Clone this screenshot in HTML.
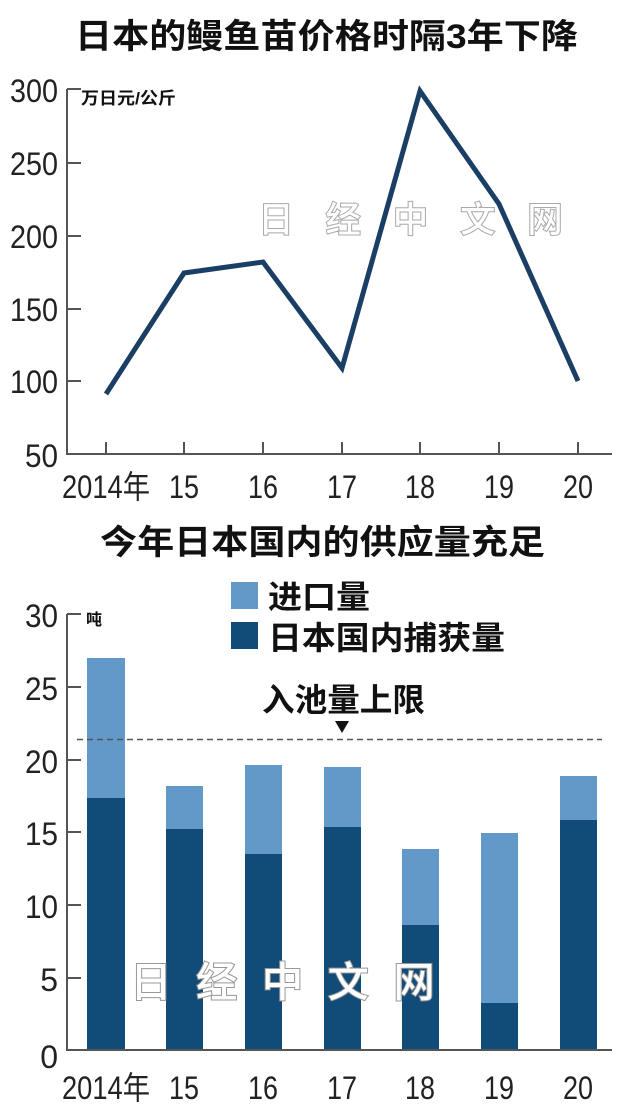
<!DOCTYPE html>
<html><head><meta charset="utf-8"><style>
body{margin:0;background:#fff;}
svg{display:block;font-family:"Liberation Sans","Noto Sans CJK SC",sans-serif;}
</style></head><body>
<svg width="630" height="1116" viewBox="0 0 630 1116">
<text x="75" y="48" font-size="34" font-weight="bold" fill="#111" textLength="503" lengthAdjust="spacingAndGlyphs">日本的鳗鱼苗价格时隔3年下降</text>
<g stroke="#555" stroke-width="2" fill="none">
<path d="M67 89 V454 H612"/>
<path d="M67 89h14M67 163h14M67 236h14M67 309h14M67 381h14"/>
<path d="M106 454v-12M184 454v-12M263 454v-12M342 454v-12M420 454v-12M499 454v-12M578 454v-12"/>
</g>
<g font-size="32" fill="#222" text-anchor="end">
<text x="58" y="102" textLength="48" lengthAdjust="spacingAndGlyphs">300</text><text x="58" y="175" textLength="48" lengthAdjust="spacingAndGlyphs">250</text><text x="58" y="248" textLength="48" lengthAdjust="spacingAndGlyphs">200</text><text x="58" y="321" textLength="48" lengthAdjust="spacingAndGlyphs">150</text><text x="58" y="393" textLength="48" lengthAdjust="spacingAndGlyphs">100</text><text x="58" y="467" textLength="33" lengthAdjust="spacingAndGlyphs">50</text>
</g>
<text x="81" y="104" font-size="17" font-weight="bold" fill="#111" textLength="95" lengthAdjust="spacingAndGlyphs">万日元/公斤</text>
<g font-size="32" fill="#222" text-anchor="middle">
<text x="106" y="498" textLength="88" lengthAdjust="spacingAndGlyphs">2014年</text><text x="184" y="498" textLength="30" lengthAdjust="spacingAndGlyphs">15</text><text x="263" y="498" textLength="30" lengthAdjust="spacingAndGlyphs">16</text><text x="342" y="498" textLength="30" lengthAdjust="spacingAndGlyphs">17</text><text x="420" y="498" textLength="30" lengthAdjust="spacingAndGlyphs">18</text><text x="499" y="498" textLength="30" lengthAdjust="spacingAndGlyphs">19</text><text x="578" y="498" textLength="30" lengthAdjust="spacingAndGlyphs">20</text>
</g>
<polyline points="106,394 184,273 263,262 342,368 420,91 499,204 578,381" fill="none" stroke="#1b3f64" stroke-width="5" stroke-linejoin="miter"/>
<text x="258" y="232" font-size="36" font-weight="bold" fill="#fff" stroke="#aaa" stroke-width="1" textLength="305" lengthAdjust="spacing">日经中文网</text>
<text x="100" y="554" font-size="34" font-weight="bold" fill="#111" textLength="445" lengthAdjust="spacingAndGlyphs">今年日本国内的供应量充足</text>
<rect x="231" y="582" width="27" height="27" fill="#6399c9"/>
<rect x="231" y="622" width="27" height="27" fill="#114b78"/>
<text x="268" y="608" font-size="32" font-weight="bold" fill="#111" textLength="102" lengthAdjust="spacingAndGlyphs">进口量</text>
<text x="268" y="649" font-size="32" font-weight="bold" fill="#111" textLength="237" lengthAdjust="spacingAndGlyphs">日本国内捕获量</text>
<text x="262" y="711" font-size="32" font-weight="bold" fill="#111" textLength="163" lengthAdjust="spacingAndGlyphs">入池量上限</text>
<path d="M335 721h14l-7 12z" fill="#111"/>
<g>
<rect x="87" y="658" width="38" height="392" fill="#6399c9"/><rect x="87" y="798" width="38" height="252" fill="#114b78"/>
<rect x="166" y="786" width="37" height="264" fill="#6399c9"/><rect x="166" y="829" width="37" height="221" fill="#114b78"/>
<rect x="245" y="765" width="37" height="285" fill="#6399c9"/><rect x="245" y="854" width="37" height="196" fill="#114b78"/>
<rect x="324" y="767" width="37" height="283" fill="#6399c9"/><rect x="324" y="827" width="37" height="223" fill="#114b78"/>
<rect x="402" y="849" width="37" height="201" fill="#6399c9"/><rect x="402" y="925" width="37" height="125" fill="#114b78"/>
<rect x="481" y="833" width="37" height="217" fill="#6399c9"/><rect x="481" y="1003" width="37" height="47" fill="#114b78"/>
<rect x="560" y="776" width="37" height="274" fill="#6399c9"/><rect x="560" y="820" width="37" height="230" fill="#114b78"/>
</g>
<path d="M77 739.5H602" stroke="#555" stroke-width="1.5" stroke-dasharray="6,4"/>
<g stroke="#555" stroke-width="2" fill="none">
<path d="M67 614 V1050 H612"/>
<path d="M67 614h14M67 687h14M67 760h14M67 832h14M67 905h14M67 978h14"/>
</g>
<g font-size="32" fill="#222" text-anchor="end">
<text x="58" y="627" textLength="33" lengthAdjust="spacingAndGlyphs">30</text><text x="58" y="700" textLength="33" lengthAdjust="spacingAndGlyphs">25</text><text x="58" y="773" textLength="33" lengthAdjust="spacingAndGlyphs">20</text><text x="58" y="845" textLength="33" lengthAdjust="spacingAndGlyphs">15</text><text x="58" y="918" textLength="33" lengthAdjust="spacingAndGlyphs">10</text><text x="58" y="991">5</text><text x="58" y="1068">0</text>
</g>
<text x="86" y="625" font-size="16" font-weight="bold" fill="#111">吨</text>
<g font-size="32" fill="#222" text-anchor="middle">
<text x="106" y="1099" textLength="88" lengthAdjust="spacingAndGlyphs">2014年</text><text x="184" y="1099" textLength="30" lengthAdjust="spacingAndGlyphs">15</text><text x="263" y="1099" textLength="30" lengthAdjust="spacingAndGlyphs">16</text><text x="342" y="1099" textLength="30" lengthAdjust="spacingAndGlyphs">17</text><text x="420" y="1099" textLength="30" lengthAdjust="spacingAndGlyphs">18</text><text x="499" y="1099" textLength="30" lengthAdjust="spacingAndGlyphs">19</text><text x="578" y="1099" textLength="30" lengthAdjust="spacingAndGlyphs">20</text>
</g>
<text x="130" y="997" font-size="42" font-weight="bold" fill="#fff" stroke="#999" stroke-width="1" textLength="305" lengthAdjust="spacing">日经中文网</text>
</svg>
</body></html>
